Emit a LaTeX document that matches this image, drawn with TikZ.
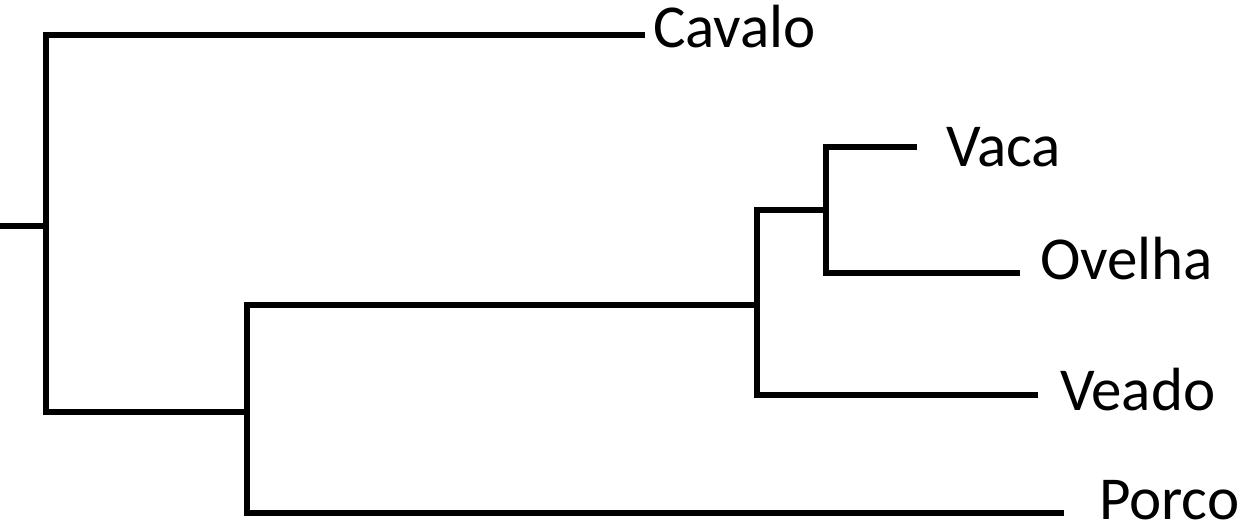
\documentclass[tikz,border=0pt]{standalone}
\usepackage{fontspec}
\setmainfont{Carlito}
\usepackage{tikz}
\usetikzlibrary{calc}

\begin{document}
\begin{tikzpicture}[x=1pt,y=-1pt,line width=6pt,
	especie/.style={anchor=base west,inner sep=0pt,font=\fontsize{61}{70}\selectfont}]
	\useasboundingbox (0,0) rectangle (1247,528);
	% pontas dos ramos
	\coordinate (tcav) at (645,35);
	\coordinate (tvac) at (917,147);
	\coordinate (tove) at (1020,273);
	\coordinate (tvea) at (1038,395);
	\coordinate (tpor) at (1064,513);
	% nos internos
	\coordinate (raiz) at (0,226);
	\coordinate (n1) at (46,226);
	\coordinate (n2) at (247,412);
	\coordinate (n3) at (757,305);
	\coordinate (n4) at (826,210);
	% ramos
	\draw (tvac) -| (n4) |- (tove);
	\draw (n4) -| (n3) |- (tvea);
	\draw (n3) -| (n2) |- (tpor);
	\draw (tcav) -| (n1) |- (n2);
	\draw (raiz) -- (n1);
	% nomes
	\node[especie] (cav) at ($(tcav)+(5,12)$) {Cavalo};
	\node[especie] (vac) at ($(tvac)+(26,19)$) {Vaca};
	\node[especie] (ove) at ($(tove)+(17,6)$) {Ovelha};
	\node[especie] (vea) at ($(tvea)+(19,15)$) {Veado};
	\node[especie] (por) at ($(tpor)+(32,6)$) {Porco};
\end{tikzpicture}
\end{document}
